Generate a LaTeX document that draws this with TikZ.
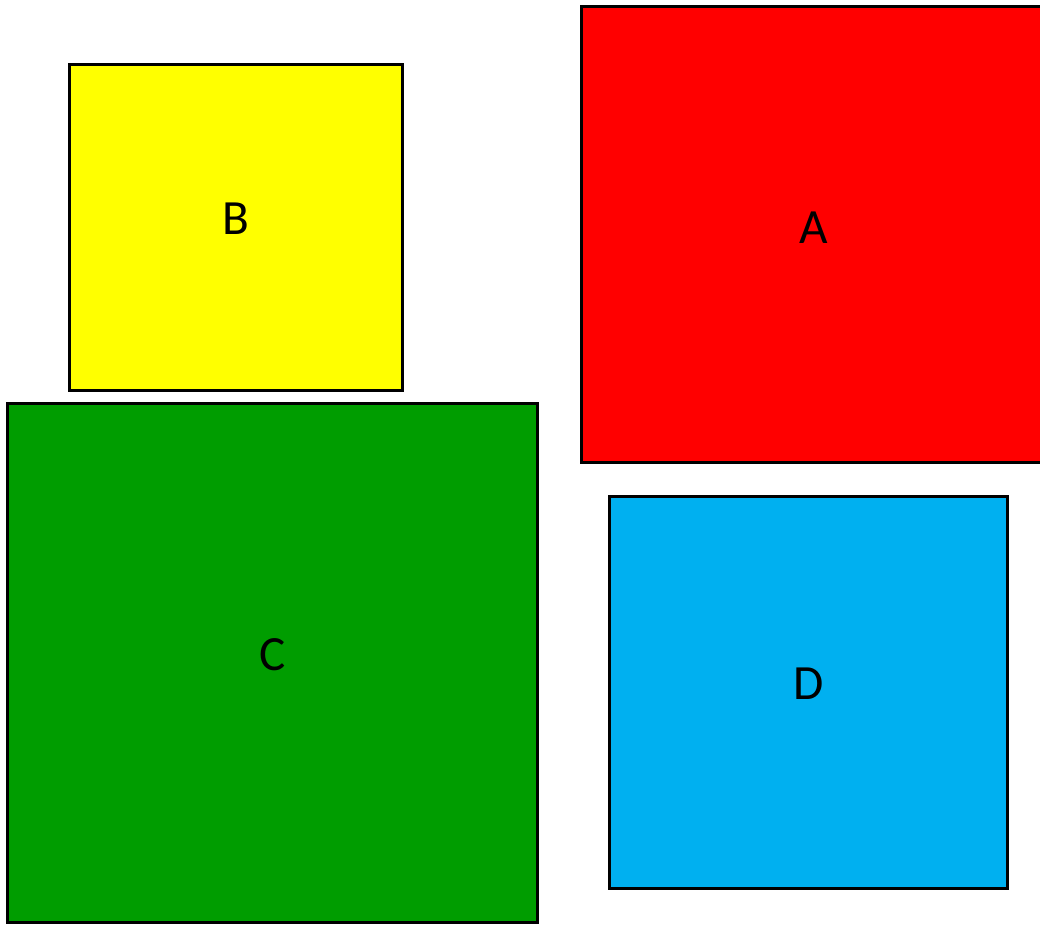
\documentclass[tikz,border=0pt]{standalone}
\usepackage{fontspec}
\setmainfont{Carlito}
\usepackage{tikz}
\usetikzlibrary{positioning,calc}
\definecolor{boxred}{RGB}{255, 0, 0}
\definecolor{boxyellow}{RGB}{255, 255, 0}
\definecolor{boxgreen}{RGB}{0, 157, 0}
\definecolor{boxcyan}{RGB}{0, 176, 240}

\begin{document}
\begin{tikzpicture}[x=0.01cm,y=-0.01cm,
    box/.style={draw=black,line width=0.9pt,inner sep=0pt,outer sep=0pt},
    tag/.style={font=\fontsize{14}{16}\selectfont,text=black}]
    % page frame
    \useasboundingbox (0,0) rectangle (1040,924);
    \clip (0,0) rectangle (1040,924);

    % blocks
    \node[box,fill=boxred,minimum width=4.6cm,minimum height=4.55cm] (A) at (812,234.5) {};
    \node[box,fill=boxyellow,minimum width=3.32cm,minimum height=3.25cm] (B) at (236,227.5) {};
    \node[box,fill=boxgreen,minimum width=5.29cm,minimum height=5.18cm] (C) at (272.5,663) {};
    \node[box,fill=boxcyan,minimum width=3.97cm,minimum height=3.91cm] (D) at (808.5,692.5) {};

    % labels
    \node[tag] (labA) at ([xshift=0.02cm,yshift=0.07cm]A.center) {A};
    \node[tag] (labB) at ([yshift=0.09cm]B.center) {B};
    \node[tag] (labC) at ([yshift=0.08cm]C.center) {C};
    \node[tag] (labD) at ([yshift=0.09cm]D.center) {D};
\end{tikzpicture}
\end{document}
